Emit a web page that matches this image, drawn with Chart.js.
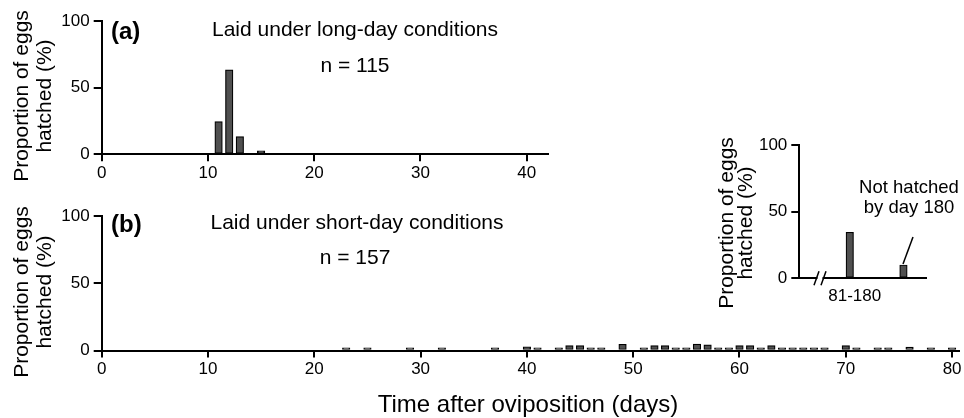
<!DOCTYPE html>
<html><head><meta charset="utf-8">
<script src="https://cdn.jsdelivr.net/npm/chart.js@4.4.0/dist/chart.umd.min.js"></script>
<style>
html,body{margin:0;padding:0;background:#fff;}
#wrap{position:relative;width:964px;height:418px;overflow:hidden;background:#fff;}
canvas{position:absolute;left:0;top:0;}
</style></head><body>
<div id="wrap">
<canvas id="cb" width="964" height="418"></canvas>
<canvas id="ca" width="964" height="418"></canvas>
<canvas id="ci" width="964" height="418"></canvas>
</div>
<script>
// ---- data ----
const daysA = [11, 12, 13, 15];
const hatchedA = [24.5, 63.4, 13.2, 2.6];
const daysB = [23, 25, 29, 32, 37, 40, 41, 43, 44, 45, 46, 47, 49, 51, 52, 53, 54, 55, 56, 57, 58, 59, 60, 61, 62, 63, 64, 65, 66, 67, 68, 70, 71, 73, 74, 76, 78, 80];
const hatchedB = [2.0, 2.0, 2.0, 2.0, 2.0, 2.8, 2.0, 2.0, 3.6, 3.6, 2.0, 2.0, 4.6, 2.0, 3.6, 3.6, 2.0, 2.0, 4.8, 4.2, 2.0, 2.0, 3.6, 3.6, 2.0, 3.6, 2.0, 2.0, 2.0, 2.0, 2.0, 3.6, 2.0, 2.0, 2.0, 2.5, 2.0, 2.0];
const insetCategories = ['81-180', 'Not hatched by day 180'];
const insetValues = [34.5, 10];
const yTicks = [0, 50, 100];
const xTicksA = [0, 10, 20, 30, 40];
const xTicksB = [0, 10, 20, 30, 40, 50, 60, 70, 80];

const FONT = '"Liberation Sans", Arial, Helvetica, sans-serif';
const BAR_FILL = '#505050';

const annot = {
  id: 'annot',
  afterDraw(chart, args, opts) {
    const ctx = chart.ctx;
    (opts.items || []).forEach(it => {
      ctx.save();
      ctx.font = (it.bold ? 'bold ' : '') + it.size + 'px ' + FONT;
      ctx.fillStyle = '#000';
      ctx.textAlign = it.align || 'center';
      ctx.textBaseline = 'middle';
      ctx.translate(it.x, it.y);
      if (it.rot) ctx.rotate(it.rot);
      ctx.fillText(it.text, 0, 0);
      ctx.restore();
    });
    (opts.lines || []).forEach(l => {
      ctx.save();
      ctx.strokeStyle = '#000';
      ctx.lineWidth = l.w || 1.5;
      ctx.beginPath();
      ctx.moveTo(l.x1, l.y1);
      ctx.lineTo(l.x2, l.y2);
      ctx.stroke();
      ctx.restore();
    });
    if (opts.axisBreak) {
      const a = chart.chartArea;
      const b = opts.axisBreak;
      ctx.save();
      ctx.fillStyle = '#fff';
      ctx.fillRect(b.x - 2.5, a.bottom - 3, 5, 6);
      ctx.strokeStyle = '#000';
      ctx.lineWidth = 1.5;
      ctx.beginPath();
      ctx.moveTo(b.x - 6, a.bottom + 7); ctx.lineTo(b.x - 1, a.bottom - 7);
      ctx.moveTo(b.x + 1, a.bottom + 7); ctx.lineTo(b.x + 6, a.bottom - 7);
      ctx.stroke();
      ctx.restore();
    }
  }
};

function yScale() {
  return {
    type: 'linear', min: 0, max: 100, offset: false,
    afterBuildTicks: s => { s.ticks = yTicks.map(v => ({ value: v })); },
    afterFit: s => { s.width = 60; s.paddingTop = 0; s.paddingBottom = 0; },
    grid: { offset: false, drawOnChartArea: false, drawTicks: true, tickLength: 8, color: '#000', lineWidth: 2 },
    border: { display: true, color: '#000', width: 2 },
    ticks: { font: { size: 17, family: FONT }, color: '#000', padding: 4 }
  };
}
function xScale(max, ticksArr) {
  return {
    type: 'linear', min: 0, max: max, offset: false,
    afterBuildTicks: s => { s.ticks = ticksArr.map(v => ({ value: v })); },
    afterFit: s => { s.height = 40; s.paddingLeft = 0; s.paddingRight = 0; },
    grid: { offset: false, drawOnChartArea: false, drawTicks: true, tickLength: 7, color: '#000', lineWidth: 2 },
    border: { display: true, color: '#000', width: 2 },
    ticks: { font: { size: 17, family: FONT }, color: '#000', padding: 2, maxRotation: 0, autoSkip: false }
  };
}
function dataset(xs, ys) {
  return {
    data: xs.map((x, i) => ({ x: x, y: ys[i] })),
    backgroundColor: BAR_FILL, borderColor: '#000', borderWidth: 1.2,
    borderSkipped: false, barThickness: 7.5
  };
}
function baseOptions(pad, xs, items, extra) {
  return {
    responsive: false, animation: false, devicePixelRatio: 1,
    layout: { padding: pad },
    scales: { x: xs, y: yScale() },
    plugins: {
      legend: { display: false }, tooltip: { enabled: false },
      annot: Object.assign({ items: items }, extra || {})
    }
  };
}

// Panel (b) - short day
new Chart(document.getElementById('cb'), {
  type: 'bar',
  data: { datasets: [dataset(daysB, hatchedB)] },
  options: baseOptions({ left: 41.7, top: 216, right: 5, bottom: 27.5 }, xScale(80.65, xTicksB), [
    { text: '(b)', x: 111, y: 225, size: 24, bold: true, align: 'left' },
    { text: 'Laid under short-day conditions', x: 357, y: 223, size: 21 },
    { text: 'n = 157', x: 355, y: 258, size: 21 },
    { text: 'Proportion of eggs', x: 22, y: 292, size: 21, rot: -Math.PI / 2 },
    { text: 'hatched (%)', x: 45, y: 292, size: 21, rot: -Math.PI / 2 },
    { text: 'Time after oviposition (days)', x: 528, y: 405, size: 24 }
  ]),
  plugins: [annot]
});

// Panel (a) - long day
new Chart(document.getElementById('ca'), {
  type: 'bar',
  data: { datasets: [dataset(daysA, hatchedA)] },
  options: baseOptions({ left: 41.7, top: 21, right: 416, bottom: 223.7 }, xScale(42, xTicksA), [
    { text: '(a)', x: 111, y: 32, size: 24, bold: true, align: 'left' },
    { text: 'Laid under long-day conditions', x: 355, y: 30, size: 21 },
    { text: 'n = 115', x: 355, y: 66, size: 21 },
    { text: 'Proportion of eggs', x: 22, y: 96, size: 21, rot: -Math.PI / 2 },
    { text: 'hatched (%)', x: 45, y: 96, size: 21, rot: -Math.PI / 2 }
  ]),
  plugins: [annot]
});

// Inset
const insetX = {
  type: 'linear', min: 0.06, max: 2.42, offset: false,
  afterBuildTicks: s => { s.ticks = [{ value: 1 }]; },
  afterFit: s => { s.height = 40; s.paddingLeft = 0; s.paddingRight = 0; },
  grid: { offset: false, drawOnChartArea: false, drawTicks: false },
  border: { display: true, color: '#000', width: 2 },
  ticks: { font: { size: 17, family: FONT }, color: '#000', padding: 8, labelOffset: 5,
           callback: v => (v === 1 ? insetCategories[0] : '') }
};
new Chart(document.getElementById('ci'), {
  type: 'bar',
  data: { datasets: [dataset(insetValues.map((v, i) => i + 1), insetValues)] },
  options: baseOptions({ left: 739.3, top: 145, right: 38, bottom: 99.7 }, insetX, [
    { text: 'Proportion of eggs', x: 727, y: 223, size: 21, rot: -Math.PI / 2 },
    { text: 'hatched (%)', x: 746, y: 223, size: 21, rot: -Math.PI / 2 },
    { text: 'Not hatched', x: 909, y: 188, size: 18.5 },
    { text: 'by day 180', x: 909, y: 208, size: 18.5 }
  ], { lines: [{ x1: 913, y1: 237, x2: 903, y2: 264 }], axisBreak: { x: 820 } }),
  plugins: [annot]
});
</script>
</body></html>
